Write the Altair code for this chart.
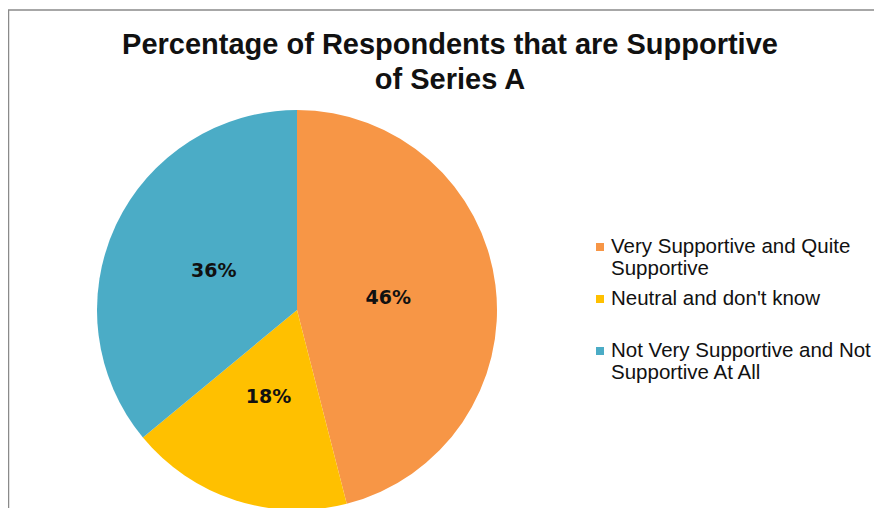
import altair as alt
import pandas as pd

title_lines = ["Percentage of Respondents that are Supportive", "of Series A"]
categories = [
    "Very Supportive and Quite Supportive",
    "Neutral and don't know",
    "Not Very Supportive and Not Supportive At All",
]
legend_text = [
    "Very Supportive and Quite\nSupportive",
    "Neutral and don't know",
    "Not Very Supportive and Not\nSupportive At All",
]
values = [46, 18, 36]
labels = ["46%", "18%", "36%"]
colors = ["#F79646", "#FFC000", "#4BACC6"]
slice_order = [1, 2, 3]

df = pd.DataFrame({
    "category": categories,
    "legend": legend_text,
    "value": values,
    "label": labels,
    "ord": slice_order,
})
title_df = pd.DataFrame({"title": ["\n".join(title_lines)]})

CX, CY = 289, 302
color_scale = alt.Scale(domain=categories, range=colors)

base = alt.Chart(df).encode(
    theta=alt.Theta("value:Q", stack=True),
    order=alt.Order("ord:Q"),
)

pie = base.mark_arc(outerRadius=200).encode(
    x=alt.value(CX),
    y=alt.value(CY),
    color=alt.Color("category:N", sort=categories, scale=color_scale, legend=None),
)

text = base.mark_text(
    radius=92, font="DejaVu Sans", fontWeight="bold", fontSize=19, color="#111111"
).encode(x=alt.value(CX), y=alt.value(CY), text="label:N")

legend_y = alt.Y(
    "category:N", sort=categories, axis=None,
    scale=alt.Scale(type="point", range=[239, 343], padding=0),
)

legend_sym = alt.Chart(df).mark_square(size=64, opacity=1).encode(
    x=alt.value(592),
    y=legend_y,
    color=alt.Color("category:N", sort=categories, scale=color_scale, legend=None),
)

legend_lab = alt.Chart(df).mark_text(
    align="left", baseline="top", dy=-10, font="Liberation Sans", fontSize=20.5,
    lineHeight=22, lineBreak="\n", color="#111111",
).encode(
    x=alt.value(603),
    y=legend_y,
    text="legend:N",
)

title = alt.Chart(title_df).mark_text(
    align="center", baseline="middle", font="Liberation Sans", fontSize=29,
    fontWeight="bold", lineHeight=35, lineBreak="\n", color="#111111",
).encode(x=alt.value(442), y=alt.value(37), text="title:N")

top_rule = alt.Chart(title_df).mark_rule(color="#8a8a8a", strokeWidth=1.5).encode(
    x=alt.value(0), x2=alt.value(866), y=alt.value(2)
)
left_rule = alt.Chart(title_df).mark_rule(color="#8a8a8a", strokeWidth=1.5).encode(
    x=alt.value(0.5), y=alt.value(2), y2=alt.value(500)
)

chart = (
    alt.layer(top_rule, left_rule, pie, text, legend_sym, legend_lab, title)
    .properties(
        width=866,
        height=500,
        padding=0,
        autosize=alt.AutoSizeParams(type="none"),
        background="white",
    )
    .configure_view(stroke=None)
)

chart.save("out.html", embed_options={"renderer": "svg", "actions": False})
